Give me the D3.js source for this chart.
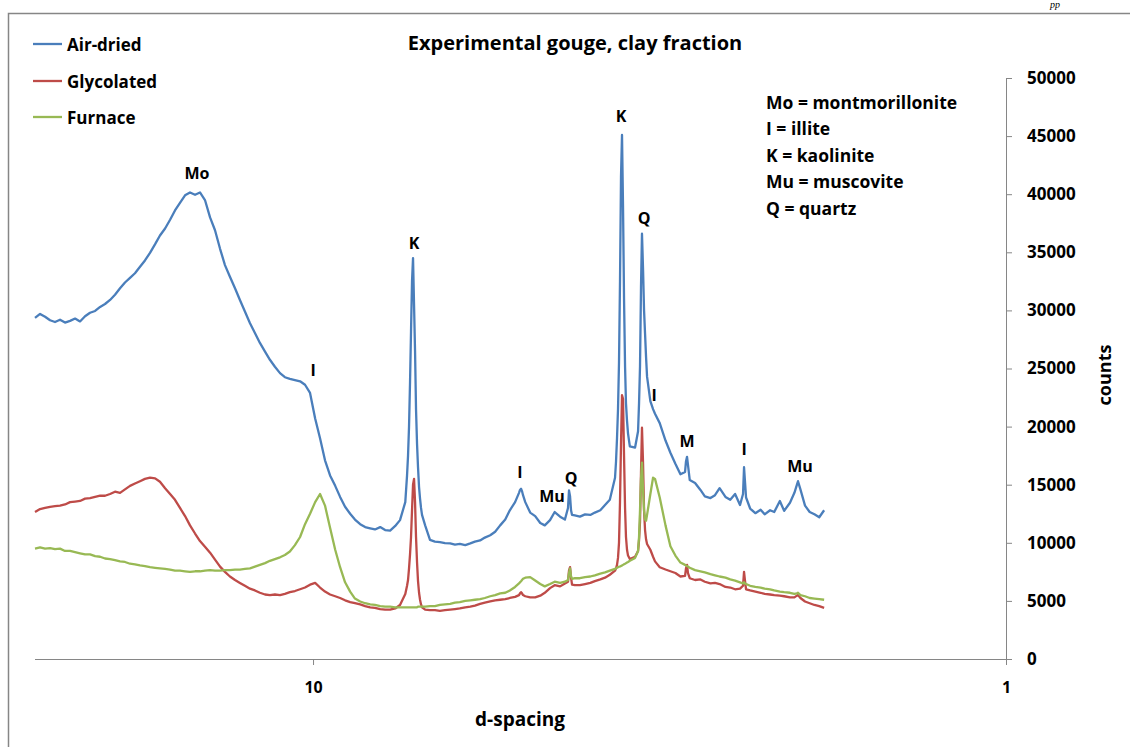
<!DOCTYPE html>
<html><head><meta charset="utf-8">
<script src="https://cdn.jsdelivr.net/npm/d3@7"></script>
<style>
body{margin:0;background:#fff;}
svg text{font-family:"Open Sans",Lato,sans-serif;font-weight:bold;fill:#000;}
</style></head>
<body><svg id="c" width="1130" height="747"></svg>
<script>
// d-spacing (Å) of the sampled points, shared by the three scans
const dSpacing = [
25.19,24.77,24.36,23.96,23.57,23.18,22.80,22.42,22.05,21.69,21.33,20.98,20.63,20.29,19.96,19.63,19.31,18.99,18.68,18.37,
18.07,17.77,17.48,17.19,16.90,16.63,16.35,16.08,15.82,15.56,15.30,15.05,14.80,14.56,14.32,14.08,13.85,13.62,13.40,13.18,
12.96,12.75,12.54,12.33,12.13,11.93,11.73,11.54,11.35,11.16,10.98,10.80,10.62,10.44,10.27,10.10,9.93,9.77,9.61,9.45,
9.29,9.14,8.99,8.84,8.70,8.55,8.41,8.27,8.14,8.00,7.87,7.74,7.61,7.49,7.36,
7.317,7.293,7.269,7.245,7.221,7.197,7.173,7.149,7.125,7.102,7.078,7.055,7.031,7.008,6.985,6.962,
6.89,6.78,6.67,6.56,6.45,6.34,6.24,6.14,6.03,5.93,5.84,5.74,5.65,5.55,5.46,5.37,5.28,5.20,5.11,
5.044,5.027,5.010,4.994,4.977,
4.94,4.86,4.78,4.70,4.63,4.55,4.48,4.40,4.33,
4.286,4.272,4.257,4.243,4.229,
4.19,4.12,4.05,3.98,3.92,3.85,3.79,3.73,
3.666,3.654,3.642,3.630,3.618,3.606,3.594,3.582,3.570,3.558,3.546,3.535,3.523,3.511,
3.49,3.43,3.396,3.385,3.374,3.363,3.352,3.340,3.329,3.318,3.307,3.296,
3.26,3.231,3.21,3.16,3.10,3.05,3.00,2.95,2.905,
2.896,2.886,2.877,2.86,2.81,2.76,2.72,2.67,2.63,2.59,2.54,2.50,2.46,2.42,
2.396,2.388,2.380,2.372,2.34,2.30,2.26,2.23,2.19,2.16,2.12,2.09,2.05,2.02,
2.003,1.996,1.98,1.95,1.92,1.89,1.86,1.83
];
const airDried = [
29350,29700,29450,29150,29000,29200,28950,29100,29300,29050,29500,29800,29950,30300,30550,30900,31350,31900,32400,32800,
33200,33750,34300,34950,35700,36450,37050,37800,38600,39250,39900,40150,39950,40150,39500,38000,36900,35300,33900,32900,
31900,30900,29900,28900,28050,27200,26450,25750,25150,24600,24250,24100,24000,23900,23600,22900,20700,19000,17100,15800,
14900,13950,13100,12500,12000,11600,11350,11250,11150,11350,11100,11050,11450,11950,13500,
15800,17500,20000,23800,28200,32500,34500,30500,26500,21500,18500,16500,14800,13800,13000,12400,
11500,10250,10100,10050,9980,9950,9850,9900,9800,9950,10100,10200,10450,10650,10950,11500,12000,12800,13500,
14300,14550,14650,14450,14100,
13500,12600,12300,11700,11500,11950,12650,12250,12000,
13000,14500,14000,12800,12400,
12350,12250,12450,12400,12600,12800,13250,13700,
15600,17000,19000,21500,25500,32500,41500,45100,39000,31000,25200,22000,20500,19400,
18300,18200,19600,22000,25200,32000,36600,33500,30000,28000,26000,24300,
22200,21500,21100,20300,18800,17750,16800,15900,16100,
17000,17400,16700,15400,15150,14550,14000,13850,14100,14700,13950,13700,14200,13250,
14200,16500,15200,13900,12950,12550,12850,12450,12800,12650,13600,12750,13450,14300,
15000,15300,14600,13200,12650,12450,12200,12800
];
const glycolated = [
12650,12900,13000,13100,13150,13200,13300,13500,13550,13600,13800,13850,13950,14050,14050,14200,14400,14300,14600,14900,
15100,15300,15500,15600,15550,15250,14700,14200,13700,13000,12300,11500,10800,10150,9650,9150,8550,7950,7500,7100,
6800,6550,6300,6050,5900,5700,5550,5500,5550,5500,5600,5750,5850,6000,6150,6400,6550,6150,5800,5550,
5400,5250,5050,4900,4800,4700,4550,4450,4400,4300,4250,4250,4350,4650,5600,
6300,6800,7800,9000,10500,12800,15000,15500,13500,10500,8300,6700,5700,5100,4700,4450,
4250,4200,4200,4150,4200,4250,4300,4350,4450,4500,4600,4750,4850,4950,5050,5100,5150,5250,5350,
5500,5650,5750,5650,5500,
5400,5300,5300,5450,5700,6100,6350,6250,6500,
6650,7600,7900,7000,6400,
6350,6350,6450,6550,6700,6850,7000,7250,
7600,7800,8100,8700,10000,13500,18500,22700,22400,17500,13000,10500,9400,8900,
8600,8800,9300,10200,11800,16000,19900,16800,12800,11100,10300,9900,
9400,8800,8400,7900,7700,7550,7400,7100,7150,
7800,8100,7400,6950,6800,6850,6650,6500,6550,6450,6200,6150,6000,6050,
6300,7500,6700,6000,5900,5800,5700,5600,5550,5500,5450,5400,5300,5300,
5450,5500,5250,4950,4800,4650,4550,4400
];
const furnace = [
9500,9600,9500,9550,9450,9500,9300,9300,9200,9100,9000,9000,8850,8800,8650,8600,8500,8400,8350,8200,
8150,8050,8000,7900,7850,7800,7750,7700,7600,7600,7550,7500,7550,7550,7600,7650,7600,7600,7650,7650,
7700,7700,7750,7800,7950,8100,8250,8450,8600,8750,8950,9250,9800,10500,11600,12500,13500,14200,13200,11300,
9400,7900,6600,5800,5200,4950,4800,4700,4650,4550,4500,4500,4450,4450,4450,
4450,4450,4450,4450,4450,4450,4450,4450,4450,4450,4450,4500,4500,4500,4500,4500,
4500,4550,4550,4650,4700,4750,4850,4900,5000,5050,5100,5150,5250,5400,5500,5650,5700,5900,6200,
6500,6600,6700,6800,6900,
7000,7050,6750,6450,6250,6450,6650,6550,6650,
6800,7400,7800,7100,6900,
6950,6950,7050,7100,7200,7350,7450,7600,
7750,7800,7850,7900,7950,7950,8000,8050,8100,8150,8200,8250,8300,8350,
8450,8700,9300,10500,12800,15500,16900,14500,12800,12000,11900,12400,
14200,15600,15500,13900,11500,9700,8900,8300,8100,
8050,8000,7950,7850,7650,7550,7450,7300,7200,7100,7000,6850,6750,6600,
6500,6600,6500,6450,6300,6200,6150,6050,6000,5900,5800,5750,5700,5600,
5650,5700,5500,5400,5250,5200,5150,5100
];
const seriesNames = ["Air-dried","Glycolated","Furnace"];
const seriesColors = ["#4A7EBB","#BE4B48","#98B954"];
const yTicks = [0,5000,10000,15000,20000,25000,30000,35000,40000,45000,50000];
const xTicks = [10,1];
const keyLines = ["Mo = montmorillonite","I = illite","K = kaolinite","Mu = muscovite","Q = quartz"];
const peakText = ["Mo","I","K","I","Mu","Q","K","Q","I","M","I","Mu"];
const peakD    = [14.71,10.0,7.149,5.027,4.52,4.243,3.594,3.329,3.22,2.886,2.388,1.983];
const peakC    = [41800,24870,35800,16090,14030,15580,46730,37950,22720,18760,18070,16610];

const svg = d3.select("#c");
const x = d3.scaleLog().domain([25.19,1]).range([35,1006]);
const y = d3.scaleLinear().domain([0,50000]).range([659,78]);
const axisCol = "#868686";

// outer frame
svg.append("path").attr("d","M8.5,747 V13.5 H1130").attr("fill","none").attr("stroke",axisCol).attr("stroke-width",1.5);
svg.append("text").attr("x",1050).attr("y",8).style("font-family","'Liberation Serif',serif")
  .style("font-style","italic").style("font-weight","normal").style("font-size","10px").text("pp");

// axes
const xAxis = svg.append("g").attr("transform","translate(0,659)")
  .call(d3.axisBottom(x).tickValues(xTicks).tickFormat(d3.format("d")).tickSize(6).tickPadding(17));
xAxis.select(".domain").attr("d","M35,0.5H1006").attr("stroke",axisCol);
xAxis.selectAll(".tick line").attr("stroke",axisCol);
xAxis.selectAll(".tick text").style("font-size","16px").style("font-family","'Open Sans',sans-serif").style("font-weight","bold");

const yAxis = svg.append("g").attr("transform","translate(1006,0)")
  .call(d3.axisRight(y).tickValues(yTicks).tickFormat(d3.format("d")).tickSize(6).tickPadding(15));
yAxis.select(".domain").attr("d","M0.5,78V665").attr("stroke",axisCol);
yAxis.selectAll(".tick line").attr("stroke",axisCol);
yAxis.selectAll(".tick text").style("font-size","17px").style("font-family","'Open Sans',sans-serif").style("font-weight","bold");

// series
const all = [airDried, glycolated, furnace];
const line = d3.line().x(p=>x(p[0])).y(p=>y(p[1]));
all.forEach((vals,i)=>{
  const n = Math.min(vals.length, dSpacing.length);
  const pts = d3.range(n).map(k=>[dSpacing[k], vals[k]]);
  svg.append("path").datum(pts).attr("d",line).attr("fill","none")
    .attr("stroke",seriesColors[i]).attr("stroke-width",2.3).attr("stroke-linejoin","round");
});

// peak labels
peakText.forEach((t,i)=>{
  svg.append("text").attr("x",x(peakD[i])).attr("y",y(peakC[i])).attr("text-anchor","middle")
    .attr("dominant-baseline","central").style("font-size","16px").text(t);
});

// title and axis titles
svg.append("text").attr("x",575).attr("y",50).attr("text-anchor","middle").style("font-size","20px").text("Experimental gouge, clay fraction");
svg.append("text").attr("x",520).attr("y",726).attr("text-anchor","middle").style("font-size","19px").text("d-spacing");
svg.append("text").attr("transform","translate(1111,375) rotate(-90)").attr("text-anchor","middle").style("font-size","18px").text("counts");

// legend
seriesNames.forEach((s,i)=>{
  const ly = [44,81,117][i];
  svg.append("line").attr("x1",33).attr("x2",62).attr("y1",ly).attr("y2",ly).attr("stroke",seriesColors[i]).attr("stroke-width",2.3);
  svg.append("text").attr("x",67).attr("y",ly).attr("dominant-baseline","central").style("font-size","17px").text(s);
});

// key
keyLines.forEach((s,i)=>{
  svg.append("text").attr("x",766).attr("y",109+i*26.4).style("font-size","17.5px").text(s);
});
</script></body></html>
